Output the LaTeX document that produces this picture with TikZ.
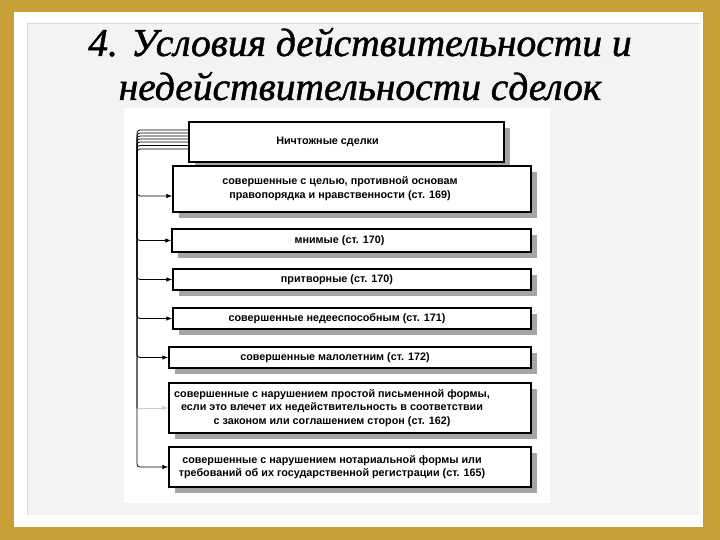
\documentclass[tikz,border=0pt]{standalone}
\usepackage{fontspec}
\setmainfont{Liberation Serif}
\newfontfamily\titlefont{Liberation Serif}[FakeBold=1.2]
\newfontfamily\boxfont{Liberation Sans}
\usetikzlibrary{arrows.meta, shadows}
\definecolor{framegold}{RGB}{198,160,54}
\definecolor{slidegray}{RGB}{243,243,243}
\definecolor{shadowgray}{RGB}{165,165,165}

\begin{document}
\begin{tikzpicture}[
            x=1pt, y=-1pt,
            >={Latex[length=6pt,width=4.5pt]},
                base/.style = {rectangle, draw=black, line width=1.5pt,
                            fill=white, inner sep=0pt},
                dealbox/.style = {base, drop shadow={shadow xshift=6pt,
                            shadow yshift=-6pt, fill=shadowgray, opacity=1}},
                dealtext/.style = {font=\boxfont\bfseries\fontsize{10.8}{13.8}\selectfont,
                            align=center},
                link/.style = {line width=0.8pt, rounded corners=3pt},
                faintlink/.style = {link, draw=black!20},
            ]
            \useasboundingbox (0,0) rectangle (720,540);
            % slide frame
            \fill[framegold] (0,0) rectangle (720,540);
            \fill[white] (14,12) rectangle (703,527);
            \fill[slidegray] (27,23) rectangle (700,515);
            \draw[black!15, line width=0.6pt] (27,515) -- (27,23) -- (700,23);
            \fill[white] (124,108) rectangle (550,503);
            % title
            \node (Title) [anchor=base, align=center,
                font=\titlefont\itshape\fontsize{39.5}{44}\selectfont] at (360,100) {
                4. Условия действительности и\\недействительности сделок
            };
            % boxes
            \node (Void) [dealbox, minimum width=315pt, minimum height=40pt,
                label={[dealtext, xshift=-19pt]center:Ничтожные сделки}] at (346.5,142) {};
            \node (Immoral) [dealbox, minimum width=358pt, minimum height=46pt,
                label={[dealtext, xshift=-12pt]center:{совершенные с целью, противной основам\\правопорядка и нравственности (ст. 169)}}] at (352,189) {};
            \node (Sham) [dealbox, minimum width=359pt, minimum height=23pt,
                label={[dealtext, xshift=-12pt]center:{мнимые (ст. 170)}}] at (351.5,240.5) {};
            \node (Feigned) [dealbox, minimum width=358pt, minimum height=21pt,
                label={[dealtext, xshift=-15pt]center:{притворные (ст. 170)}}] at (352,279.5) {};
            \node (Incapable) [dealbox, minimum width=358pt, minimum height=21pt,
                label={[dealtext, xshift=-15pt]center:{совершенные недееспособным (ст. 171)}}] at (352,318.5) {};
            \node (Minor) [dealbox, minimum width=362pt, minimum height=21pt,
                label={[dealtext, xshift=-15pt]center:{совершенные малолетним (ст. 172)}}] at (350,357.5) {};
            \node (WrittenForm) [dealbox, minimum width=362pt, minimum height=50pt,
                label={[dealtext, xshift=-18pt]center:{совершенные с нарушением простой письменной формы,\\если это влечет их недействительность в соответствии\\с законом или соглашением сторон (ст. 162)}}] at (350,408) {};
            \node (NotaryForm) [dealbox, minimum width=362pt, minimum height=40pt,
                label={[dealtext, xshift=-18pt]center:{совершенные с нарушением нотариальной формы или\\требований об их государственной регистрации (ст. 165)}}] at (350,467) {};
            % links
            \coordinate (Trunk) at (137,0);
            \coordinate (ImmoralIn) at ([yshift=-7pt]Immoral.west);
            \draw[link] ([yshift=-3.5pt]Void.west) -| (Trunk |- WrittenForm.west) coordinate (WrittenTurn);
            \draw[faintlink, ->] (WrittenTurn) -- (WrittenForm.west);
            \draw[link, ->] ([yshift=12pt]Void.west) -| (Trunk |- ImmoralIn) -- (ImmoralIn);
            \foreach \target/\dy in {Sham/9, Feigned/6, Incapable/3, Minor/0, NotaryForm/-7}
                \draw[link, ->] ([yshift=\dy pt]Void.west) -| (Trunk |- \target.west) -- (\target.west);
        \end{tikzpicture}
\end{document}
